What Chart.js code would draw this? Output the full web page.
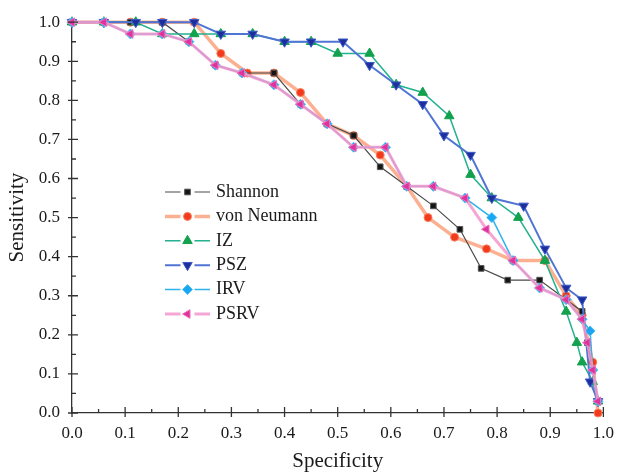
<!DOCTYPE html>
<html>
<head>
<meta charset="utf-8">
<script src="https://cdn.jsdelivr.net/npm/chart.js@4.4.1/dist/chart.umd.min.js"></script>
<style>
  html, body { margin: 0; padding: 0; background: #fff; }
</style>
</head>
<body>
<canvas id="roc" width="624" height="476"></canvas>
<script>
/* ==================== DATA ==================== */
const tickValues = [0, 0.1, 0.2, 0.3, 0.4, 0.5, 0.6, 0.7, 0.8, 0.9, 1.0];

const shannonX = [0, 0.06, 0.11, 0.17, 0.22, 0.27, 0.32, 0.38, 0.43, 0.48, 0.53, 0.58, 0.63, 0.68, 0.73, 0.77, 0.82, 0.88, 0.96, 0.97, 0.98, 0.99];
const shannonY = [1, 1, 1, 1, 0.95, 0.89, 0.87, 0.87, 0.79, 0.74, 0.71, 0.63, 0.58, 0.53, 0.47, 0.37, 0.34, 0.34, 0.26, 0.18, 0.11, 0.03];

const neumannX = [0, 0.06, 0.11, 0.17, 0.23, 0.28, 0.33, 0.38, 0.43, 0.48, 0.53, 0.58, 0.63, 0.67, 0.72, 0.78, 0.83, 0.89, 0.93, 0.96, 0.98, 0.99];
const neumannY = [1, 1, 1, 1, 1, 0.92, 0.87, 0.87, 0.82, 0.74, 0.71, 0.66, 0.58, 0.50, 0.45, 0.42, 0.39, 0.39, 0.30, 0.25, 0.13, 0.0];

const izX = [0, 0.06, 0.12, 0.17, 0.23, 0.28, 0.34, 0.40, 0.45, 0.50, 0.56, 0.61, 0.66, 0.71, 0.75, 0.79, 0.84, 0.89, 0.93, 0.95, 0.96, 0.98, 0.99];
const izY = [1, 1, 1, 0.97, 0.97, 0.97, 0.97, 0.95, 0.95, 0.92, 0.92, 0.84, 0.82, 0.76, 0.61, 0.55, 0.50, 0.39, 0.26, 0.18, 0.13, 0.08, 0.03];

const pszX = [0, 0.06, 0.12, 0.17, 0.23, 0.28, 0.34, 0.40, 0.45, 0.51, 0.56, 0.61, 0.66, 0.70, 0.75, 0.79, 0.85, 0.89, 0.93, 0.96, 0.975, 0.99];
const pszY = [1, 1, 1, 1, 1, 0.97, 0.97, 0.95, 0.95, 0.95, 0.89, 0.84, 0.79, 0.71, 0.66, 0.55, 0.53, 0.42, 0.32, 0.29, 0.08, 0.03];

const irvX = [0, 0.06, 0.11, 0.17, 0.22, 0.27, 0.32, 0.38, 0.43, 0.48, 0.53, 0.59, 0.63, 0.68, 0.74, 0.79, 0.83, 0.88, 0.93, 0.96, 0.975, 0.98, 0.99];
const irvY = [1, 1, 0.97, 0.97, 0.95, 0.89, 0.87, 0.84, 0.79, 0.74, 0.68, 0.68, 0.58, 0.58, 0.55, 0.50, 0.39, 0.32, 0.29, 0.24, 0.21, 0.11, 0.03];

const psrvX = [0, 0.06, 0.11, 0.17, 0.22, 0.27, 0.32, 0.38, 0.43, 0.48, 0.53, 0.59, 0.63, 0.68, 0.74, 0.78, 0.83, 0.88, 0.93, 0.96, 0.97, 0.98, 0.99];
const psrvY = [1, 1, 0.97, 0.97, 0.95, 0.89, 0.87, 0.84, 0.79, 0.74, 0.68, 0.68, 0.58, 0.58, 0.55, 0.47, 0.39, 0.32, 0.29, 0.24, 0.18, 0.11, 0.03];

/* ==================== HELPERS ==================== */
function series(label, xs, ys, style) {
  return Object.assign({
    label,
    data: xs.map((x, i) => ({ x, y: ys[i] })),
    tension: 0,
    clip: false,
    pointBorderWidth: 1
  }, style);
}

// ticks pointing into the plot, major ones crossing the axis
const innerTicks = {
  id: 'innerTicks',
  afterDraw(chart) {
    const { ctx, chartArea: a, scales: { x, y } } = chart;
    ctx.save();
    ctx.strokeStyle = '#333';
    ctx.lineWidth = 1.3;
    ctx.beginPath();
    x.ticks.forEach(t => {
      const major = Math.round(t.value * 100) % 10 === 0;
      const px = x.getPixelForValue(t.value);
      ctx.moveTo(px, a.bottom + (major ? 4 : 0));
      ctx.lineTo(px, a.bottom - (major ? 6 : 4));
    });
    y.ticks.forEach(t => {
      const major = Math.round(t.value * 100) % 10 === 0;
      const py = y.getPixelForValue(t.value);
      ctx.moveTo(a.left - (major ? 4 : 0), py);
      ctx.lineTo(a.left + (major ? 6 : 4), py);
    });
    ctx.stroke();
    ctx.restore();
  }
};

// legend box sitting inside the plot area
const insideLegend = {
  id: 'insideLegend',
  afterDraw(chart) {
    const ctx = chart.ctx;
    const left = 165, right = 210, mid = (left + right) / 2;
    const textX = 216, top = 192, step = 24.4;
    ctx.save();
    ctx.font = '18px "Liberation Serif"';
    ctx.textBaseline = 'middle';
    chart.data.datasets.forEach((ds, i) => {
      const y = top + i * step;
      ctx.strokeStyle = ds.borderColor;
      ctx.lineWidth = ds.borderWidth;
      ctx.beginPath();
      ctx.moveTo(left, y); ctx.lineTo(mid - 7, y);
      ctx.moveTo(mid + 7, y); ctx.lineTo(right, y);
      ctx.stroke();
      ctx.fillStyle = ds.pointBackgroundColor;
      ctx.strokeStyle = ds.pointBorderColor;
      ctx.lineWidth = 1;
      Chart.helpers.drawPoint(ctx, {
        pointStyle: ds.pointStyle,
        radius: ds.pointRadius,
        rotation: ds.pointRotation || 0,
        borderWidth: 1
      }, mid, y);
      ctx.fillStyle = '#1a1a1a';
      ctx.fillText(ds.label, textX, y);
    });
    ctx.restore();
  }
};

/* ==================== CHART ==================== */
Chart.defaults.font.family = '"Liberation Serif", "DejaVu Serif", serif';
Chart.defaults.color = '#1a1a1a';

new Chart(document.getElementById('roc'), {
  type: 'line',
  data: {
    datasets: [
      series('Shannon', shannonX, shannonY, {
        borderColor: '#4a4a4a', borderWidth: 1.2,
        pointStyle: 'rect', pointRadius: 4,
        pointBackgroundColor: '#151515', pointBorderColor: '#555', order: 5
      }),
      series('von Neumann', neumannX, neumannY, {
        borderColor: 'rgba(249,150,110,0.75)', borderWidth: 3.5,
        pointStyle: 'circle', pointRadius: 4,
        pointBackgroundColor: '#f23a1c', pointBorderColor: '#f7825f', order: 6
      }),
      series('IZ', izX, izY, {
        borderColor: '#25b090', borderWidth: 1.5,
        pointStyle: 'triangle', pointRadius: 5.5,
        pointBackgroundColor: '#12a14c', pointBorderColor: '#12a14c', order: 4
      }),
      series('PSZ', pszX, pszY, {
        borderColor: '#4f74d3', borderWidth: 2,
        pointStyle: 'triangle', pointRotation: 180, pointRadius: 5.5,
        pointBackgroundColor: '#1d2f9c', pointBorderColor: '#3d5bc8', order: 3
      }),
      series('IRV', irvX, irvY, {
        borderColor: '#2fb4ec', borderWidth: 1.5,
        pointStyle: 'rectRot', pointRadius: 5,
        pointBackgroundColor: '#1aa6f0', pointBorderColor: '#4cc0f4', order: 2
      }),
      series('PSRV', psrvX, psrvY, {
        borderColor: 'rgba(244,150,205,0.85)', borderWidth: 3,
        pointStyle: 'triangle', pointRotation: 270, pointRadius: 5,
        pointBackgroundColor: '#e0329c', pointBorderColor: '#ee6fbb', order: 1
      })
    ]
  },
  options: {
    responsive: false,
    animation: false,
    devicePixelRatio: 1,
    layout: { padding: { top: 17, right: 12, left: 0, bottom: 0 } },
    plugins: { legend: { display: false }, tooltip: { enabled: false } },
    scales: {
      x: {
        type: 'linear', min: 0, max: 1,
        afterFit: s => { s.height = 63; },
        grid: { display: false, drawTicks: false },
        border: { display: true, color: '#333', width: 1.3 },
        ticks: {
          stepSize: 0.05, autoSkip: false, maxRotation: 0, padding: 10,
          font: { size: 17 },
          callback: v => tickValues.some(t => Math.abs(t - v) < 1e-6) ? v.toFixed(1) : ''
        },
        title: { display: true, text: 'Specificity', font: { size: 21 }, padding: { bottom: 2 } }
      },
      y: {
        min: 0, max: 1,
        afterFit: s => { s.width = 72; },
        grid: { display: false, drawTicks: false },
        border: { display: true, color: '#333', width: 1.3 },
        ticks: {
          stepSize: 0.05, autoSkip: false, padding: 12,
          font: { size: 17 },
          callback: v => tickValues.some(t => Math.abs(t - v) < 1e-6) ? v.toFixed(1) : ''
        },
        title: { display: true, text: 'Sensitivity', font: { size: 21 }, padding: { top: 5 } }
      }
    }
  },
  plugins: [innerTicks, insideLegend]
});
</script>
</body>
</html>
